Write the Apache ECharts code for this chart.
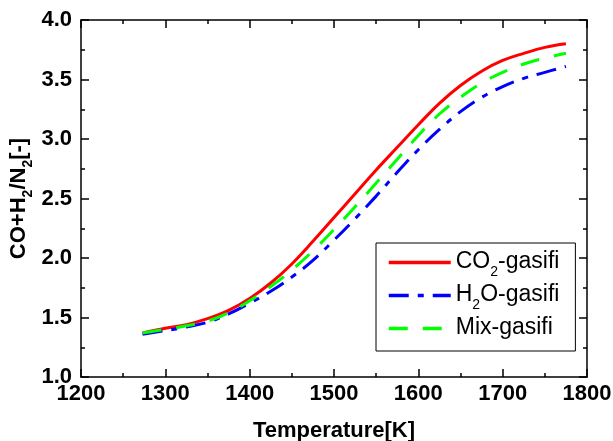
<html>
<head>
    <meta charset="utf-8">
    <title>CO+H2/N2</title>
    <script src="https://cdn.jsdelivr.net/npm/echarts@6/dist/echarts.min.js"></script>
</head>
<body style="margin:0;">
    <div id="main" style="height:441px;width:613px;"></div>
    <script type="text/javascript">
    // temperature points [K]
    var temps = [1273, 1300, 1325, 1350, 1375, 1400, 1425, 1450, 1475, 1500, 1525,
                 1550, 1575, 1600, 1625, 1650, 1675, 1700, 1725, 1750, 1775];
    // CO+H2/N2 values
    var co2Gas = [1.37, 1.41, 1.44, 1.49, 1.56, 1.66, 1.79, 1.95, 2.14, 2.34, 2.54,
                  2.74, 2.93, 3.12, 3.30, 3.45, 3.57, 3.66, 3.72, 3.77, 3.80];
    var h2oGas = [1.36, 1.39, 1.42, 1.46, 1.53, 1.62, 1.72, 1.84, 1.98, 2.15, 2.33,
                  2.52, 2.72, 2.91, 3.08, 3.23, 3.35, 3.44, 3.51, 3.56, 3.61];
    var mixGas = [1.37, 1.40, 1.43, 1.47, 1.54, 1.64, 1.76, 1.90, 2.06, 2.24, 2.43,
                  2.63, 2.83, 3.03, 3.21, 3.35, 3.47, 3.56, 3.63, 3.68, 3.72];
    var names = ['CO2-gasifi', 'H2O-gasifi', 'Mix-gasifi'];

    var font = 'Arial, "Liberation Sans", sans-serif';

    function pairs(vals) {
        var out = [];
        for (var i = 0; i < temps.length; i++) {
            out.push([temps[i], vals[i]]);
        }
        return out;
    }

    var myChart = echarts.init(document.getElementById('main'));

    var tickStyle = { show: true, inside: true, length: 8, lineStyle: { color: '#000', width: 1.5 } };
    var minorStyle = { show: true, splitNumber: 2, length: 4, lineStyle: { color: '#000', width: 1.5 } };
    var lineStyle = { show: true, onZero: false, lineStyle: { color: '#000', width: 1.5 } };

    var option = {
        animation: false,
        grid: { left: 81, right: 26, top: 20, bottom: 64, outerBoundsMode: 'none', containLabel: false },
        legend: {
            orient: 'vertical',
            left: 376,
            top: 243,
            padding: [7, 16, 6, 11],
            itemGap: 4,
            itemWidth: 62,
            itemHeight: 14,
            borderColor: '#000',
            borderWidth: 1,
            borderRadius: 0,
            backgroundColor: '#fff',
            itemStyle: { opacity: 0, borderWidth: 0 },
            lineStyle: { width: 3.5 },
            data: names,
            formatter: function (name) {
                if (name === 'CO2-gasifi') return '{a|CO}{s|2}{a|-gasifi}';
                if (name === 'H2O-gasifi') return '{a|H}{s|2}{a|O-gasifi}';
                return '{a|Mix-gasifi}{s| }';
            },
            textStyle: {
                color: '#000',
                fontFamily: font,
                rich: {
                    a: { fontSize: 23, lineHeight: 25, verticalAlign: 'top', fontFamily: font, color: '#000' },
                    s: { fontSize: 14, lineHeight: 16, padding: [15, 0, 0, 0], verticalAlign: 'top', fontFamily: font, color: '#000' }
                }
            }
        },
        xAxis: [{
            type: 'value',
            min: 1200, max: 1800, interval: 100,
            name: 'Temperature[K]',
            nameLocation: 'middle',
            nameGap: 43,
            nameMoveOverlap: false,
            nameTextStyle: { fontSize: 22, fontWeight: 'bold', fontFamily: font, color: '#000' },
            axisLine: lineStyle,
            axisTick: tickStyle,
            minorTick: minorStyle,
            splitLine: { show: false },
            axisLabel: {
                margin: 6, fontSize: 22, fontWeight: 'bold', fontFamily: font, color: '#000',
                formatter: function (v) { return String(v); }
            }
        }, {
            type: 'value',
            position: 'top',
            min: 1200, max: 1800, interval: 100,
            axisLine: lineStyle,
            axisTick: tickStyle,
            minorTick: minorStyle,
            splitLine: { show: false },
            axisLabel: { show: false }
        }],
        yAxis: [{
            type: 'value',
            min: 1.0, max: 4.0, interval: 0.5,
            name: '{a|CO+H}{s|2}{a|/N}{s|2}{a|[-]}',
            nameLocation: 'middle',
            nameGap: 49,
            nameRotate: 90,
            nameMoveOverlap: false,
            nameTextStyle: {
                rich: {
                    a: { fontSize: 22, fontWeight: 'bold', lineHeight: 24, verticalAlign: 'top', fontFamily: font, color: '#000' },
                    s: { fontSize: 14, fontWeight: 'bold', lineHeight: 16, padding: [13, 0, 0, 0], verticalAlign: 'top', fontFamily: font, color: '#000' }
                }
            },
            axisLine: lineStyle,
            axisTick: tickStyle,
            minorTick: minorStyle,
            splitLine: { show: false },
            axisLabel: {
                margin: 9, fontSize: 22, fontWeight: 'bold', fontFamily: font, color: '#000',
                formatter: function (v) { return v.toFixed(1); }
            }
        }, {
            type: 'value',
            position: 'right',
            min: 1.0, max: 4.0, interval: 0.5,
            axisLine: lineStyle,
            axisTick: tickStyle,
            minorTick: minorStyle,
            splitLine: { show: false },
            axisLabel: { show: false }
        }],
        series: [{
            name: names[0],
            type: 'line',
            smooth: 0.4,
            symbol: 'none',
            data: pairs(co2Gas),
            itemStyle: { color: '#ff0000' },
            lineStyle: { color: '#ff0000', width: 3 }
        }, {
            name: names[1],
            type: 'line',
            smooth: 0.4,
            symbol: 'none',
            data: pairs(h2oGas),
            itemStyle: { color: '#0000ff' },
            lineStyle: { color: '#0000ff', width: 3, type: [20, 9, 6, 9] }
        }, {
            name: names[2],
            type: 'line',
            smooth: 0.4,
            symbol: 'none',
            data: pairs(mixGas),
            itemStyle: { color: '#00ff00' },
            lineStyle: { color: '#00ff00', width: 3, type: [19, 15] }
        }]
    };
    myChart.setOption(option);
    </script>
</body>
</html>
